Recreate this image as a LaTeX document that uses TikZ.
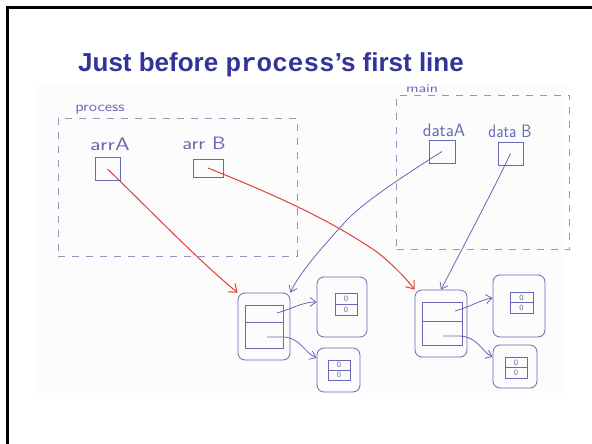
\documentclass[tikz,border=0pt]{standalone}
\usepackage{fontspec}
\setmainfont{Liberation Sans}
\newfontfamily\codefont{Liberation Mono}
\usetikzlibrary{arrows.meta}
\definecolor{titleblue}{RGB}{51,51,153}
\definecolor{ink}{RGB}{104,104,180}
\definecolor{dashink}{RGB}{150,150,192}
\definecolor{redink}{RGB}{226,62,52}
\definecolor{paper}{RGB}{252,252,252}
% widen handwritten words horizontally
\newcommand\handwide[2]{\scalebox{#1}[1]{#2}}
\tikzset{
  hand/.style={draw=ink, line width=0.8pt},
  frame/.style={draw=dashink, line width=0.8pt, dash pattern=on 7pt off 7pt, rectangle, inner sep=0pt},
  handlabel/.style={text=ink, font=\sffamily\fontsize{18}{18}\selectfont, inner sep=0pt},
  smalllabel/.style={text=ink, font=\sffamily\fontsize{14}{14}\selectfont, inner sep=0pt},
  slot/.style={hand, rectangle, inner sep=0pt},
  heapbox/.style={hand, rectangle, rounded corners=7pt, inner sep=0pt},
  cell/.style={hand, rectangle, inner sep=0pt},
  ptr/.style={ink, line width=0.8pt, -{Straight Barb[length=6pt,width=9pt]}},
  redptr/.style={redink, line width=1pt, -{Straight Barb[length=7pt,width=11pt]}},
  digit/.style={text=ink, font=\sffamily\fontsize{8}{8}\selectfont, inner sep=0pt}
}
\begin{document}
\begin{tikzpicture}[x=1pt, y=-1pt]
\useasboundingbox (0,0) rectangle (592,444);
% slide edge
\draw[line width=3pt, black] (7.5,444) -- (7.5,7.5) -- (592,7.5);
% faint photo background
\fill[paper] (35,85) rectangle (566,393);
% title
\node[text=titleblue, font=\bfseries\fontsize{26}{26}\selectfont, anchor=base, inner sep=0pt] (title) at (271,71)
  {Just before {\codefont process}’s first line};

% stack frames
\node[frame, minimum width=239pt, minimum height=138pt] (procframe) at (177.5,187) {};
\node[smalllabel] (proclabel) at (100,110) {\handwide{1.2}{process}};
\node[frame, minimum width=173pt, minimum height=154pt] (mainframe) at (483,172) {};
\node[smalllabel, font=\sffamily\fontsize{12}{12}\selectfont] (mainlabel) at (422,89) {\handwide{1.35}{main}};

% local variables
\node[handlabel] (arrAlabel) at (110,144) {\handwide{1.3}{arrA}};
\node[slot, minimum width=25pt, minimum height=23pt] (arrA) at (107.5,169) {};
\node[handlabel] (arrBlabel) at (204,143) {\handwide{1.2}{arr B}};
\node[slot, minimum width=30pt, minimum height=18pt] (arrB) at (208,168) {};
\node[handlabel] (dataAlabel) at (444,130) {\handwide{1.0}{dataA}};
\node[slot, minimum width=26pt, minimum height=23pt] (dataA) at (442,151.5) {};
\node[handlabel] (dataBlabel) at (510,131) {\handwide{0.9}{data B}};
\node[slot, minimum width=25pt, minimum height=23pt] (dataB) at (510.5,153.5) {};

% left heap cluster
\node[heapbox, minimum width=52pt, minimum height=67pt] (Louter) at (264,326.5) {};
\node[cell, minimum width=38pt, minimum height=43pt] (Linner) at (264,326.5) {};
\draw[hand] (Linner.west |- 0,322) -- (Linner.east |- 0,322);
\node[heapbox, minimum width=50pt, minimum height=60pt] (LU) at (342,307) {};
\node[cell, minimum width=22pt, minimum height=22pt] (LUc) at (346,304) {};
\draw[hand] (LUc.west) -- (LUc.east);
\node[digit] (LUa) at (346,298.5) {0};
\node[digit] (LUb) at (346,309.5) {0};
\node[heapbox, minimum width=43pt, minimum height=44pt] (LL) at (338.5,370) {};
\node[cell, minimum width=22pt, minimum height=20pt] (LLc) at (339,370) {};
\draw[hand] (LLc.west) -- (LLc.east);
\node[digit] (LLa) at (339,365) {0};
\node[digit] (LLb) at (339,375) {0};
\coordinate (Lp1) at (277,313);
\coordinate (Lp2) at (267,337);
\draw[ptr] (Lp1) .. controls (292,309) and (302,302) .. (LU.west |- 0,302);
\draw[ptr] (Lp2) -- (284,337) .. controls (300,338) and (304,352) .. (LL.west |- 0,358);

% right heap cluster
\node[heapbox, minimum width=52pt, minimum height=67pt] (Router) at (441,323.5) {};
\node[cell, minimum width=40pt, minimum height=43pt] (Rinner) at (442,323.5) {};
\draw[hand] (Rinner.west |- 0,321) -- (Rinner.east |- 0,321);
\node[heapbox, minimum width=52pt, minimum height=62pt] (RU) at (519,306) {};
\node[cell, minimum width=23pt, minimum height=21pt] (RUc) at (521.5,302.5) {};
\draw[hand] (RUc.west) -- (RUc.east);
\node[digit] (RUa) at (521.5,297.5) {0};
\node[digit] (RUb) at (521.5,307.5) {0};
\node[heapbox, minimum width=44pt, minimum height=43pt] (RL) at (515,366.5) {};
\node[cell, minimum width=22pt, minimum height=21pt] (RLc) at (516,367.5) {};
\draw[hand] (RLc.west) -- (RLc.east);
\node[digit] (RLa) at (516,362.5) {0};
\node[digit] (RLb) at (516,372.5) {0};
\coordinate (Rp1) at (455,311);
\coordinate (Rp2) at (443,336);
\draw[ptr] (Rp1) .. controls (470,307) and (480,300) .. (RU.west |- 0,298);
\draw[ptr] (Rp2) -- (460,336) .. controls (478,337) and (482,352) .. (RL.west |- 0,357);

% pointers from process's parameters (red)
\draw[redptr] (arrA.center) .. controls (150,210) and (200,262) .. (Louter.north west);
\draw[redptr] (arrB.center) .. controls (280,197) and (330,220) .. (377,252)
  .. controls (392,264) and (405,277) .. (Router.north west);

% pointers from main's variables (blue)
\draw[ptr] (dataA.center) .. controls (400,178) and (360,205) .. (345,222)
  .. controls (320,250) and (300,272) .. (Louter.north east);
\draw[ptr] (dataB.center) .. controls (498,180) and (485,205) .. (Router.north);
\end{tikzpicture}
\end{document}
